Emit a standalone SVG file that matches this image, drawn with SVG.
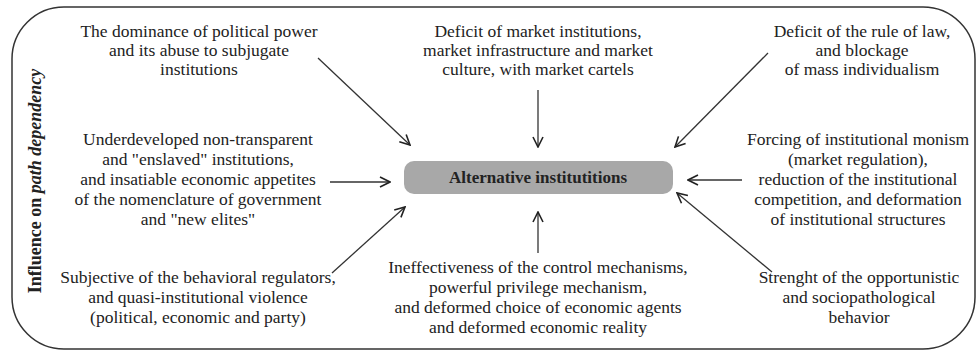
<svg xmlns="http://www.w3.org/2000/svg" width="976" height="353" viewBox="0 0 976 353">
<defs>
<style>
.t{font-size:17.5px;fill:#222;text-anchor:middle}
.c{stroke:#333;stroke-width:1.3;fill:none}
</style>
<marker id="ah" viewBox="0 0 12 12" refX="11" refY="6" markerWidth="12" markerHeight="12" markerUnits="userSpaceOnUse" orient="auto">
<path d="M1,1 L11,6 L1,11" fill="none" stroke="#222" stroke-width="1.6"/>
</marker>
</defs>
<rect width="976" height="353" fill="#fff"/>
<rect id="frame" x="12" y="7" width="963" height="342" rx="52" ry="52" fill="none" stroke="#333" stroke-width="1.5"/>
<g font-family="Liberation Serif">
<g id="side-label">
<text transform="translate(41,181) rotate(-90)" font-size="18" font-weight="bold" fill="#222" text-anchor="middle">Influence on <tspan font-style="italic">path dependency</tspan></text>
</g>
<g id="center">
<rect x="404" y="161" width="269" height="33" rx="10" ry="10" fill="#a8a8a8"/>
<text x="538" y="183" class="t" font-weight="bold" style="font-size:17px">Alternative institutitions</text>
</g>
<g id="n-top-left">
<text class="t" x="199" y="37">The dominance of political power</text>
<text class="t" x="199" y="56">and its abuse to subjugate</text>
<text class="t" x="199" y="75">institutions</text>
</g>
<g id="n-top-mid">
<text class="t" x="538" y="37">Deficit of market institutions,</text>
<text class="t" x="538" y="56">market infrastructure and market</text>
<text class="t" x="538" y="75">culture, with market cartels</text>
</g>
<g id="n-top-right">
<text class="t" x="862" y="37">Deficit of the rule of law,</text>
<text class="t" x="862" y="56">and blockage</text>
<text class="t" x="862" y="75">of mass individualism</text>
</g>
<g id="n-mid-left">
<text class="t" x="198" y="145">Underdeveloped non-transparent</text>
<text class="t" x="198" y="165">and "enslaved" institutions,</text>
<text class="t" x="198" y="185">and insatiable economic appetites</text>
<text class="t" x="198" y="205">of the nomenclature of government</text>
<text class="t" x="198" y="225">and "new elites"</text>
</g>
<g id="n-mid-right">
<text class="t" x="858" y="145">Forcing of institutional monism</text>
<text class="t" x="858" y="165">(market regulation),</text>
<text class="t" x="858" y="185">reduction of the institutional</text>
<text class="t" x="858" y="205">competition, and deformation</text>
<text class="t" x="858" y="225">of institutional structures</text>
</g>
<g id="n-bottom-left">
<text class="t" x="198" y="283">Subjective of the behavioral regulators,</text>
<text class="t" x="198" y="303">and quasi-institutional violence</text>
<text class="t" x="198" y="323">(political, economic and party)</text>
</g>
<g id="n-bottom-mid">
<text class="t" x="538" y="273">Ineffectiveness of the control mechanisms,</text>
<text class="t" x="538" y="293">powerful privilege mechanism,</text>
<text class="t" x="538" y="313">and deformed choice of economic agents</text>
<text class="t" x="538" y="333">and deformed economic reality</text>
</g>
<g id="n-bottom-right">
<text class="t" x="859" y="283">Strenght of the opportunistic</text>
<text class="t" x="859" y="303">and sociopathological</text>
<text class="t" x="859" y="323">behavior</text>
</g>
</g>
<g id="connectors">
<line class="c" x1="318" y1="58" x2="410" y2="145" marker-end="url(#ah)"/>
<line class="c" x1="538" y1="90" x2="538" y2="147" marker-end="url(#ah)"/>
<line class="c" x1="768" y1="53" x2="675" y2="147" marker-end="url(#ah)"/>
<line class="c" x1="330" y1="182" x2="390" y2="182" marker-end="url(#ah)"/>
<line class="c" x1="742" y1="180" x2="688" y2="180" marker-end="url(#ah)"/>
<line class="c" x1="332" y1="273" x2="405" y2="207" marker-end="url(#ah)"/>
<line class="c" x1="538" y1="253" x2="538" y2="212" marker-end="url(#ah)"/>
<line class="c" x1="772" y1="272" x2="677" y2="193" marker-end="url(#ah)"/>
</g>
</svg>
